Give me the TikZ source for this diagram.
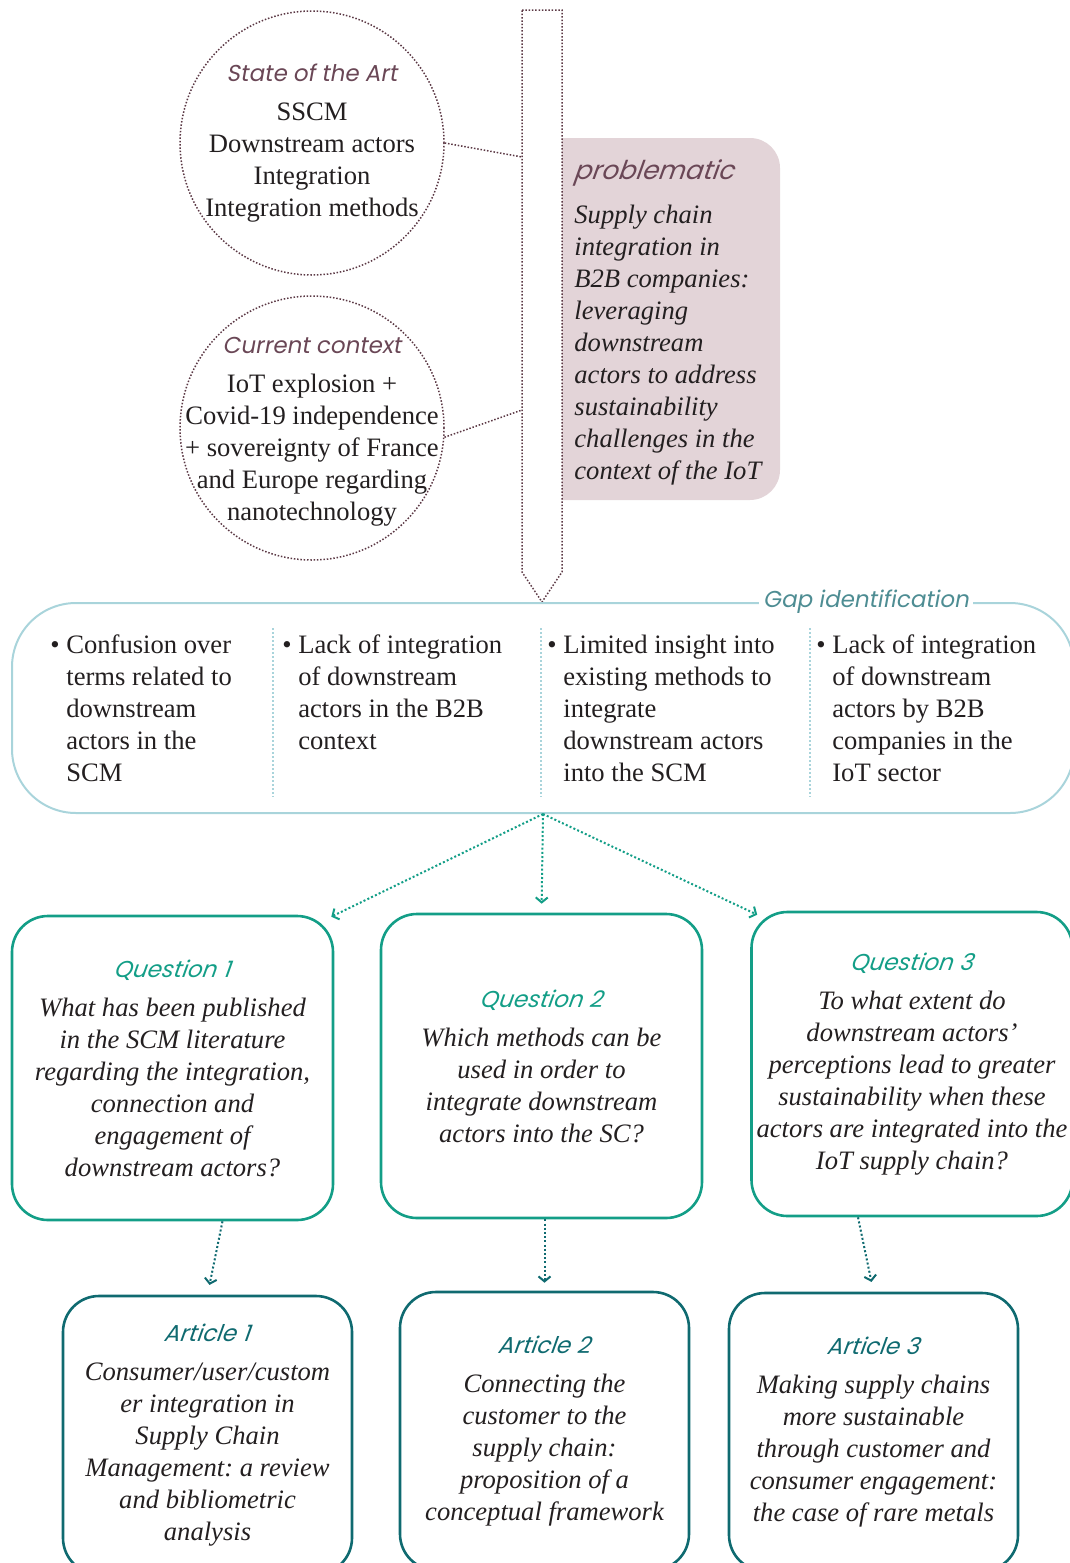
\documentclass[tikz,border=0pt]{standalone}
\usepackage{fontspec}
\setmainfont{Liberation Serif}
\newfontfamily\headfont[FakeSlant=0.18]{Poppins}
\usetikzlibrary{arrows.meta}
\frenchspacing

\definecolor{ink}{HTML}{231F20}
\definecolor{maroon}{HTML}{5B3844}
\definecolor{maroonhead}{HTML}{6A4756}
\definecolor{pinkbg}{HTML}{E3D4D8}
\definecolor{gapblue}{HTML}{A9D4DB}
\definecolor{gaptext}{HTML}{4E8D93}
\definecolor{qgreen}{HTML}{139E87}
\definecolor{adark}{HTML}{0F6A70}

\newcommand{\heading}[2]{{\headfont\color{#1}\fontsize{11.5}{14}\selectfont #2}\\[3.5pt]}
\newcommand{\ind}{\hphantom{\textbullet\ }}

\begin{document}
\begin{tikzpicture}[x=0.5pt,y=-0.5pt,>={Straight Barb[length=2.5pt,width=6pt]},
    every node/.style={font=\fontsize{13.3}{16}\selectfont,text=ink},
    circ/.style={circle,draw=maroon,line width=0.75pt,dash pattern=on 0.75pt off 0.9pt,minimum size=132pt,inner sep=0pt},
    dotline/.style={draw=maroon,line width=0.75pt,dash pattern=on 0.75pt off 0.9pt},
    qbox/.style={draw=qgreen,line width=1.3pt,rounded corners=18pt,minimum width=160.5pt,minimum height=152pt,inner sep=0pt,align=center,font=\fontsize{13.3}{16}\selectfont\itshape},
    abox/.style={qbox,draw=adark,minimum width=144.5pt,minimum height=139pt},
    col/.style={anchor=north west,align=left,inner sep=0pt},
    qarrow/.style={->,draw=qgreen,line width=1pt,dash pattern=on 1pt off 1.1pt},
    aarrow/.style={qarrow,draw=adark}]

    \useasboundingbox (0,0) rectangle (1070,1563);

    % problematic and the arrow
    \node[fill=pinkbg,rounded corners=15pt,minimum width=124pt,minimum height=181pt,inner sep=0pt] (prob) at (656,319) {};
    \draw[dotline,fill=white] (522,10) -- (562,10) -- (562,572) -- (542,602) -- (522,572) -- cycle;
    \coordinate (s1) at (522,157);
    \coordinate (s2) at (522,410);
    \node[anchor=north west,align=left,inner sep=0pt,font=\fontsize{13.3}{16}\selectfont\itshape] (probtext) at (574,159)
        {{\headfont\color{maroonhead}\fontsize{13}{16}\selectfont problematic}\\[6pt]
         Supply chain\\integration in\\B2B companies:\\leveraging\\downstream\\actors to address\\sustainability\\challenges in the\\context of the IoT};

    % state of the art and context
    \node[circ] (sota) at (312,143) {};
    \node[align=center] (sotatext) at (312,143) {\heading{maroonhead}{State of the Art}SSCM\\Downstream actors\\Integration\\Integration methods};
    \node[circ] (ctx) at (312,428) {};
    \node[align=center] (ctxtext) at (312,432) {\heading{maroonhead}{Current context}IoT explosion +\\Covid-19 independence\\+ sovereignty of France\\and Europe regarding\\nanotechnology};
    \draw[dotline] (sota.east) -- (s1);
    \draw[dotline] (ctx.-4) -- (s2);

    % gaps
    \node[draw=gapblue,line width=1pt,rounded corners=32pt,minimum width=531pt,minimum height=105pt] (gap) at (543,708) {};
    \node[fill=white,inner sep=2pt,font=\headfont\fontsize{11.5}{14}\selectfont,text=gaptext] (gaplabel) at (866,602) {Gap identification};
    \node[col] (g1) at (50,634) {\textbullet\ Confusion over\\\ind terms related to\\\ind downstream\\\ind actors in the\\\ind SCM};
    \node[col] (g2) at (282,634) {\textbullet\ Lack of integration\\\ind of downstream\\\ind actors in the B2B\\\ind context};
    \node[col] (g3) at (547,635) {\textbullet\ Limited insight into\\\ind existing methods to\\\ind integrate\\\ind downstream actors\\\ind into the SCM};
    \node[col] (g4) at (816,634) {\textbullet\ Lack of integration\\\ind of downstream\\\ind actors by B2B\\\ind companies in the\\\ind IoT sector};
    \foreach \x in {273,541,810}
        \draw[gapblue,line width=1pt,dash pattern=on 1pt off 1pt] (\x,628) -- (\x,797);

    % questions
    \node[qbox] (q1) at (172.5,1068) {\heading{qgreen}{Question 1}What has been published\\in the SCM literature\\regarding the integration,\\connection and\\engagement of\\downstream actors?};
    \node[qbox] (q2) at (541.5,1066) {\heading{qgreen}{Question 2}Which methods can be\\used in order to\\integrate downstream\\actors into the SC?};
    \node[qbox] (q3) at (912,1064) {\heading{qgreen}{Question 3}To what extent do\\downstream actors'\\perceptions lead to greater\\sustainability when these\\actors are integrated into the\\IoT supply chain?};

    \draw[qarrow] (gap.south) -- ([xshift=-1.5pt,yshift=-1pt]q1.north east);
    \draw[qarrow,shorten >=4.5pt] (gap.south) -- (q2.north);
    \draw[qarrow] (gap.south) -- ([xshift=3.5pt,yshift=-2pt]q3.north west);

    % articles
    \node[abox] (a1) at (207.5,1435) {\heading{adark}{Article 1}Consumer/user/custom\\er integration in\\Supply Chain\\Management: a review\\and bibliometric\\analysis};
    \node[abox] (a2) at (544.5,1431) {\heading{adark}{Article 2}Connecting the\\customer to the\\supply chain:\\proposition of a\\conceptual framework};
    \node[abox] (a3) at (873.5,1432) {\heading{adark}{Article 3}Making supply chains\\more sustainable\\through customer and\\consumer engagement:\\the case of rare metals};

    \draw[aarrow,shorten >=5pt] ([xshift=25pt]q1.south) -- (a1.north);
    \draw[aarrow,shorten >=4pt] ([xshift=1.5pt]q2.south) -- (a2.north);
    \draw[aarrow,shorten >=5pt] ([xshift=-27pt]q3.south) -- (a3.north);
\end{tikzpicture}
\end{document}
